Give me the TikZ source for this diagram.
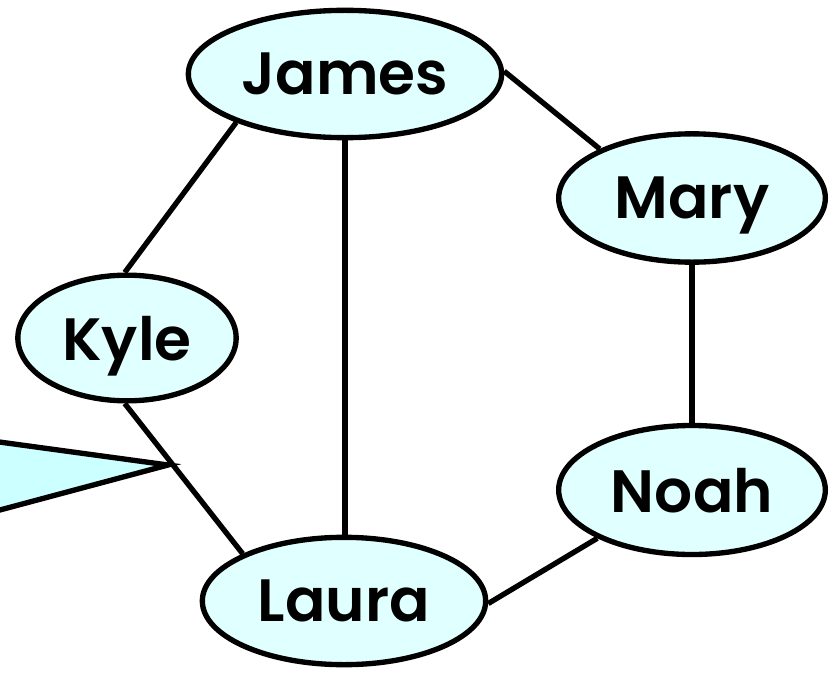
\documentclass[tikz,border=0pt]{standalone}
\usepackage{fontspec}
\newfontfamily\namefont{Poppins SemiBold}
\usetikzlibrary{shapes.geometric}
\definecolor{nodefill}{HTML}{E0FFFF}
\definecolor{calloutfill}{HTML}{CCFFFF}
\tikzset{
  person/.style={ellipse, draw=black, fill=nodefill, line width=0.16cm,
    inner sep=0pt, text depth=0pt, font=\fontsize{51}{56}\namefont},
  link/.style={draw=black, line width=0.16cm}
}
\begin{document}
\begin{tikzpicture}[x=0.03cm, y=-0.03cm]
  \useasboundingbox (0,0) rectangle (833,675);
  \clip (0,0) rectangle (833,675);

  % speech-bubble pointer coming in from the left
  \draw[fill=calloutfill, line width=0.16cm, line join=miter]
    (-30,438) -- (168,465) -- (-30,518);

  % people
  \node[person, minimum width=9.4cm,  minimum height=3.82cm] (james) at (345,74)  {James};
  \node[person, minimum width=8.0cm,  minimum height=3.85cm] (mary)  at (692,198) {Mary};
  \node[person, minimum width=6.55cm, minimum height=3.77cm] (kyle)  at (127,338) {Kyle};
  \node[person, minimum width=8.0cm,  minimum height=3.87cm] (noah)  at (692,490) {Noah};
  \node[person, minimum width=8.5cm,  minimum height=3.82cm] (laura) at (344,601) {Laura};

  % acquaintances
  \draw[link] (james.204) -- (kyle.92);
  \draw[link] (james.1)   -- (mary.152);
  \draw[link] (james.south) -- (james.south |- laura.north);
  \draw[link] (mary.south)  -- (mary.south |- noah.north);
  \draw[link] (kyle.268)  -- (laura.155);
  \draw[link] (noah.207)  -- (laura.359);
\end{tikzpicture}
\end{document}
